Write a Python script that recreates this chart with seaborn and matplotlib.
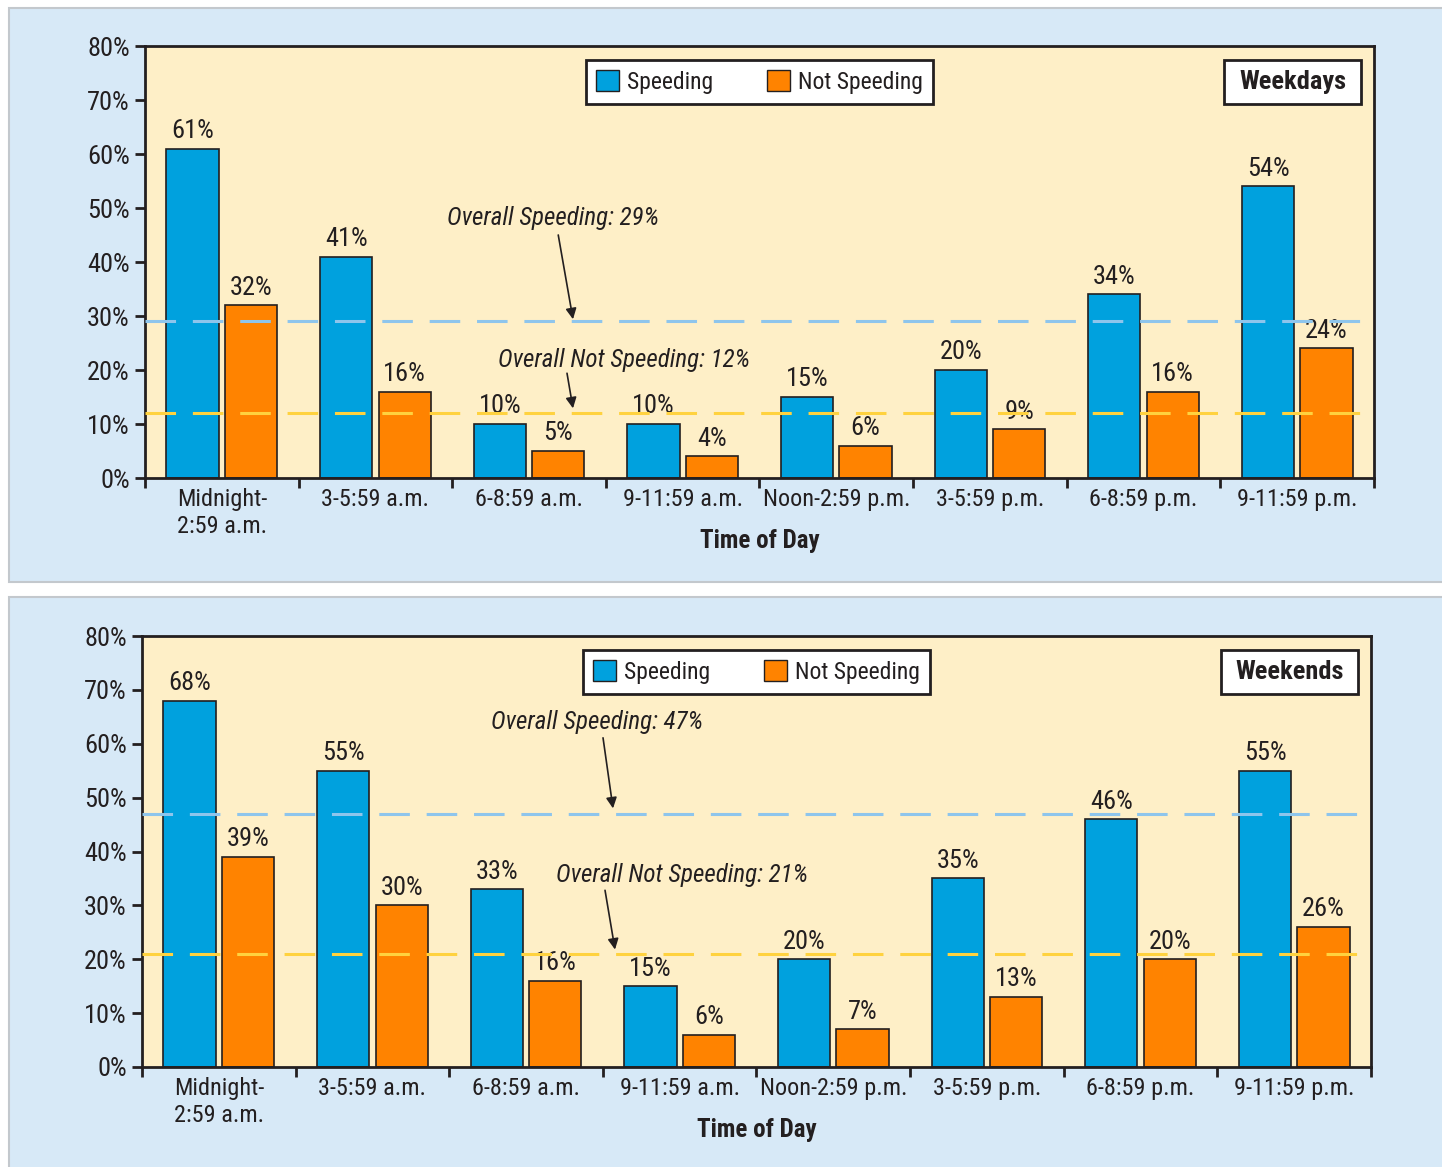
import numpy as np
import pandas as pd
import matplotlib
matplotlib.use("Agg")
import matplotlib.pyplot as plt
from matplotlib import font_manager
from matplotlib.patches import Rectangle, Patch
import seaborn as sns

# ---- data ----
times = ["Midnight-\n2:59 a.m.", "3-5:59 a.m.", "6-8:59 a.m.", "9-11:59 a.m.",
         "Noon-2:59 p.m.", "3-5:59 p.m.", "6-8:59 p.m.", "9-11:59 p.m."]
statuses = ["Speeding", "Not Speeding"]

weekday_speeding = [61, 41, 10, 10, 15, 20, 34, 54]
weekday_not_speeding = [32, 16, 5, 4, 6, 9, 16, 24]
weekday_overall = {"Speeding": 29, "Not Speeding": 12}

weekend_speeding = [68, 55, 33, 15, 20, 35, 46, 55]
weekend_not_speeding = [39, 30, 16, 6, 7, 13, 20, 26]
weekend_overall = {"Speeding": 47, "Not Speeding": 21}

y_ticks = [0, 10, 20, 30, 40, 50, 60, 70, 80]

# ---- style ----
BLUE = "#00A1DE"
ORANGE = "#FF8300"
PANEL_BG = "#D7E9F7"
PLOT_BG = "#FEEFC7"
INK = "#231F20"
LINE_BLUE = "#8EC5EC"
LINE_YELLOW = "#FFD23F"

sns.set_theme(style="ticks")


def pick_family():
    names = {f.name for f in font_manager.fontManager.ttflist}
    for cand in ["Liberation Sans Narrow", "Roboto Condensed", "Open Sans Condensed",
                 "Noto Sans Condensed", "DejaVu Sans Condensed", "Liberation Sans"]:
        if cand in names:
            return cand
    return "DejaVu Sans"


FAMILY = pick_family()
plt.rcParams["font.family"] = [FAMILY, "DejaVu Sans"]
plt.rcParams["text.color"] = INK
plt.rcParams["axes.labelcolor"] = INK
plt.rcParams["xtick.color"] = INK
plt.rcParams["ytick.color"] = INK

FS = 17.5       # category labels, legend, notes
FS_NUM = 19     # percentages

fig = plt.figure(figsize=(14.42, 11.67), dpi=100, facecolor="white")
W, H = 1442.0, 1167.0

# panel backgrounds
for top_px, bot_px in [(8, 582), (597, 1180)]:
    fig.patches.append(Rectangle((9 / W, 1 - bot_px / H), (1450 - 9) / W, (bot_px - top_px) / H,
                                 transform=fig.transFigure, facecolor=PANEL_BG,
                                 edgecolor="#C3C8CD", lw=1.5, zorder=-10))


def draw_panel(rect, speeding, not_speeding, overall, tag, notes):
    ax = fig.add_axes(rect)
    ax.set_zorder(1)
    ax.set_facecolor(PLOT_BG)
    df = pd.DataFrame({
        "time": times * 2,
        "status": [statuses[0]] * len(times) + [statuses[1]] * len(times),
        "pct": list(speeding) + list(not_speeding),
    })
    sns.barplot(data=df, x="time", y="pct", hue="status", order=times, hue_order=statuses,
                palette=[BLUE, ORANGE], width=0.76, gap=0.105, edgecolor=INK, linewidth=1.2,
                errorbar=None, legend=False, ax=ax, zorder=2, saturation=1)
    for cont in ax.containers:
        ax.bar_label(cont, labels=[f"{v:.0f}%" for v in cont.datavalues],
                     padding=4, fontsize=FS_NUM, color=INK)

    ax.set_xlim(-0.5, len(times) - 0.5)
    ax.set_ylim(0, 80)
    ax.set_yticks(y_ticks)
    ax.set_yticklabels([f"{t}%" for t in y_ticks])
    ax.set_xticks(range(len(times)))
    ax.set_xticklabels(times, fontsize=FS, linespacing=1.25)
    ax.set_xticks(np.arange(-0.5, len(times)), minor=True)
    ax.tick_params(axis="x", which="major", length=0, pad=7)
    ax.tick_params(axis="x", which="minor", length=7, width=2, direction="out", color=INK)
    ax.tick_params(axis="y", length=7, width=2, direction="out", labelsize=FS_NUM, pad=4, color=INK)
    ax.set_ylabel("")
    ax.set_xlabel("Time of Day", fontsize=FS + 0.5, fontweight="bold")
    ax.xaxis.set_label_coords(0.5, -0.146)
    ax.xaxis.label.set_va("center")
    for s in ax.spines.values():
        s.set_visible(True)
        s.set_color(INK)
        s.set_linewidth(2)

    # overall reference lines
    ax.axhline(overall["Speeding"], color=LINE_BLUE, lw=2.2, ls=(0, (10, 5.5)), zorder=3)
    ax.axhline(overall["Not Speeding"], color=LINE_YELLOW, lw=2.2, ls=(0, (10, 5.5)), zorder=3)

    for key, (tx, ty), (sx, sy), (ex, ey) in notes:
        ax.text(tx, ty, f"Overall {key}: {overall[key]}%", fontsize=FS + 0.5, style="italic",
                ha="center", va="center", color=INK, zorder=4)
        ax.annotate("", xy=(ex, ey), xytext=(sx, sy),
                    arrowprops=dict(arrowstyle="-|>", color=INK, lw=1.2, mutation_scale=16,
                                    shrinkA=0, shrinkB=0), zorder=4)

    # legend
    handles = [Patch(facecolor=BLUE, edgecolor=INK, lw=1), Patch(facecolor=ORANGE, edgecolor=INK, lw=1)]
    leg = ax.legend(handles, statuses, loc="upper center", bbox_to_anchor=(0.5, 0.968), ncol=2,
                    fontsize=FS - 0.5, frameon=True, fancybox=False, framealpha=1, edgecolor=INK,
                    handlelength=0.95, handleheight=0.95, handletextpad=0.35,
                    columnspacing=2.3, borderpad=0.45, borderaxespad=0)
    leg.get_frame().set_linewidth(2)
    leg.set_zorder(5)

    # period tag box
    ax.add_patch(Rectangle((0.8779, 0.8657), 0.1115, 0.1019, transform=ax.transAxes,
                           facecolor="white", edgecolor=INK, lw=2, zorder=5))
    ax.text(0.9337, 0.9167, tag, transform=ax.transAxes, ha="center", va="center",
            fontsize=FS + 1.5, fontweight="bold", color=INK, zorder=6)
    return ax


draw_panel([145 / W, 1 - 478 / H, 1229 / W, 432 / H],
           weekday_speeding, weekday_not_speeding, weekday_overall, "Weekdays",
           [("Speeding", (2.156, 48.1), (2.19, 45.0), (2.286, 29.4)),
            ("Not Speeding", (2.618, 21.85), (2.247, 19.4), (2.286, 12.9))])

draw_panel([142 / W, 1 - 1067 / H, 1229 / W, 431 / H],
           weekend_speeding, weekend_not_speeding, weekend_overall, "Weekends",
           [("Speeding", (2.462, 64.0), (2.501, 61.1), (2.566, 48.0)),
            ("Not Speeding", (3.016, 35.6), (2.514, 32.8), (2.579, 21.8))])

fig.savefig("out.png", dpi=100, facecolor=fig.get_facecolor())
